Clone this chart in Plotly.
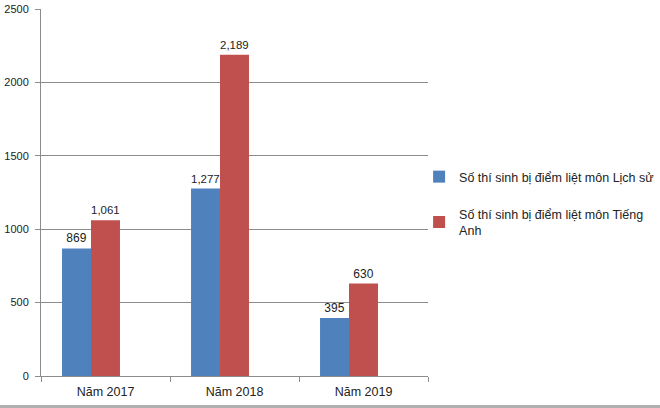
import plotly.graph_objects as go

categories = ["Năm 2017", "Năm 2018", "Năm 2019"]
lich_su = [869, 1277, 395]
tieng_anh = [1061, 2189, 630]
empty_series = [None, None, None]  # third (empty) series slot present in the original chart
series_names = ["Số thí sinh bị điểm liệt môn Lịch sử", "Số thí sinh bị điểm liệt môn Tiếng<br>Anh"]
y_ticks = [0, 500, 1000, 1500, 2000, 2500]

FONT = "Liberation Sans, Arial, sans-serif"

fig = go.Figure()
fig.add_trace(go.Bar(x=categories, y=lich_su, name=series_names[0], marker_color="#4F81BD",
                     marker_line_width=0, texttemplate="%{y:,}", textposition="outside",
                     textfont=dict(size=12, color="#222222", family=FONT), cliponaxis=False,
                     legendgroup="a"))
fig.add_trace(go.Bar(x=categories, y=tieng_anh, name=series_names[1], marker_color="#C0504D",
                     marker_line_width=0, texttemplate="%{y:,}", textposition="outside",
                     textfont=dict(size=12, color="#222222", family=FONT), cliponaxis=False,
                     legendgroup="b"))
fig.add_trace(go.Bar(x=categories, y=empty_series, name="", showlegend=False,
                     marker_color="rgba(0,0,0,0)", hoverinfo="skip"))

fig.update_layout(
    width=660, height=408,
    margin=dict(l=41, r=232, t=9, b=32, autoexpand=False),
    paper_bgcolor="white", plot_bgcolor="white",
    barmode="group", bargap=0.326, bargroupgap=0,
    font=dict(family=FONT, size=12, color="#222222"),
    showlegend=True,
    legend=dict(x=0.977, y=0.47, xanchor="left", yanchor="middle",
                font=dict(size=12.5, color="#222222", family=FONT),
                tracegroupgap=18, itemwidth=30, bgcolor="rgba(0,0,0,0)"),
)
fig.update_yaxes(range=[0, 2500], tickvals=y_ticks, showgrid=True, gridcolor="#8C8C8C", gridwidth=1,
                 showline=True, linecolor="#8C8C8C", linewidth=1, ticks="outside", ticklen=5,
                 tickcolor="#8C8C8C", tickfont=dict(size=11, color="#222222"), zeroline=False,
                 fixedrange=True, automargin=False, ticklabelstandoff=4)
fig.update_xaxes(showline=True, linecolor="#8C8C8C", linewidth=1, ticks="outside", ticklen=5,
                 tickcolor="#8C8C8C", tickson="boundaries", tickfont=dict(size=12.5, color="#222222"),
                 showgrid=False, fixedrange=True, automargin=False, ticklabelstandoff=4)

# bottom gray frame strip of the image
fig.add_shape(type="rect", xref="paper", yref="paper", x0=-0.2, x1=1.7, y0=-0.09, y1=-0.079,
              fillcolor="#B0B0B0", line_width=0, layer="above")

fig.write_html("out.html", config={"displayModeBar": False},
               post_script="document.body.style.margin='0';")
